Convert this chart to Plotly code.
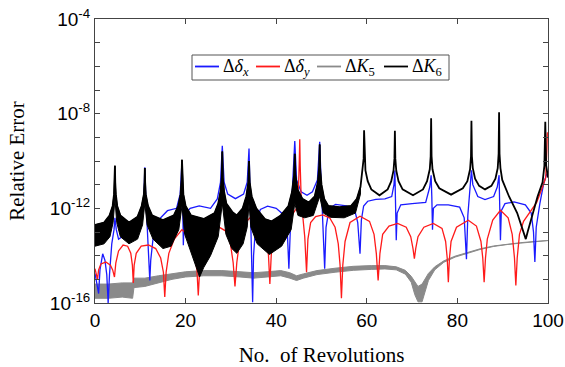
import plotly.graph_objects as go

# ---------------- data (log10 of relative error) ----------------
# Delta delta_x (blue)
DX_REV = [0, 0.5, 0.8, 1.1, 1.7, 2.2, 2.6, 2.9, 3.2, 3.7, 4.2, 4.4, 4.7, 5.2, 6, 8, 10, 10.8, 11.0, 11.2,
          11.6, 11.9, 12.1, 12.3, 12.8, 14, 16, 18, 18.8, 19.2, 19.35, 19.5, 19.7, 21, 23, 25.5, 27, 27.7,
          28.1, 28.5, 29.3, 31, 32.8, 33.6, 34.0, 34.3, 34.6, 34.8, 35.0, 35.5, 36.5, 38.1, 40, 41.8, 42.5,
          42.8, 43.1, 43.7, 44.1, 44.5, 45.5, 46.8, 48, 49.1, 49.6, 49.9, 50.3, 50.7, 51.0, 51.7, 53.1, 55.5,
          57.3, 58.0, 58.5, 58.8, 59.3, 60.2, 62, 64, 65.5, 66.0, 66.2, 66.35, 66.5, 66.7, 67.5, 70, 73,
          73.9, 74.2, 74.35, 74.5, 74.7, 75.5, 78, 80.5, 81.5, 82.0, 82.3, 82.8, 83.1, 83.4, 84.5, 86.1, 88,
          88.8, 89.2, 89.35, 89.5, 89.7, 90.5, 92.5, 95, 96.3, 96.8, 97.1, 97.4, 98.2, 99.0, 99.6, 100]
DX_LOG = [-14.75, -15.3, -15.6, -14.6, -13.92, -14.2, -14.8, -16.0, -14.8, -13.5, -12.9, -12.4, -12.9, -13.3,
          -13.2, -13.0, -12.8, -11.5, -10.27, -11.5, -13.0, -14.2, -15.05, -14.2, -13.3, -12.5, -12.1, -12.0,
          -11.4, -10.03, -11.5, -13.56, -12.3, -12.0, -11.9, -12.0, -11.6, -10.9, -9.36, -10.9, -11.4, -11.59,
          -11.4, -10.9, -9.47, -11.5, -14.0, -15.97, -14.0, -12.6, -12.05, -11.91, -12.0, -12.3, -13.2, -14.55,
          -13.0, -11.0, -9.16, -10.8, -11.3, -11.45, -11.3, -10.8, -9.19, -10.8, -12.5, -14.55, -12.8, -12.0,
          -11.83, -11.9, -12.05, -12.6, -13.92, -12.5, -11.9, -11.7, -11.62, -11.6, -11.5, -11.0, -10.4, -11.8,
          -13.35, -12.2, -11.85, -11.8, -11.75, -11.1, -10.6, -11.5, -12.9, -12.0, -11.85, -11.85, -11.95,
          -12.4, -14.15, -12.3, -11.2, -10.39, -11.0, -11.5, -11.63, -11.5, -11.1, -10.6, -12.0, -13.35, -12.1,
          -11.8, -11.73, -11.85, -12.2, -13.0, -14.27, -12.8, -11.8, -11.0, -10.6, -10.5]

# Delta delta_y (red)
DY_REV = [0, 0.3, 0.55, 0.8, 1.3, 2.4, 3.4, 3.9, 4.3, 4.6, 5.2, 6.2, 7.2, 7.9, 8.25, 8.45, 8.65, 9.1, 10.2,
          11.8, 13.4, 14.5, 15.1, 15.4, 15.7, 16.3, 17.5, 19.2, 20.8, 21.9, 22.5, 22.8, 23.1, 23.7, 25.0,
          27.0, 28.8, 29.9, 30.5, 30.9, 31.3, 31.9, 33.2, 35.0, 36.8, 37.8, 38.3, 38.6, 38.9, 39.4, 40.6,
          42.3, 43.6, 44.5, 44.95, 45.1, 45.2, 45.3, 45.5, 45.9, 46.3, 46.7, 47.0, 47.6, 48.7, 50.3, 51.8,
          53.0, 53.7, 54.1, 54.4, 54.7, 55.2, 56.3, 58.5, 60.6, 61.6, 62.1, 62.5, 62.9, 63.5, 64.9, 66.8,
          68.7, 69.7, 70.2, 70.5, 70.8, 71.3, 72.6, 74.7, 76.6, 77.4, 77.75, 78.0, 78.25, 78.6, 79.8, 82.4,
          84.2, 85.2, 85.6, 85.9, 86.2, 86.6, 87.8, 89.5, 91.2, 92.1, 92.6, 92.9, 93.2, 93.7, 94.6, 95.8,
          97.5, 98.8, 99.5, 99.75, 99.85, 100]
DY_LOG = [-14.55, -14.8, -15.0, -14.6, -14.35, -14.27, -14.4, -14.6, -14.9, -14.3, -13.8, -13.55, -13.6,
          -13.9, -14.4, -15.15, -14.4, -13.9, -13.6, -13.55, -13.7, -14.1, -14.7, -15.75, -14.7, -13.9, -13.3,
          -12.9, -13.2, -13.8, -14.6, -15.68, -14.6, -13.8, -13.1, -12.75, -12.95, -13.5, -14.3, -15.3, -14.3,
          -13.4, -12.6, -12.25, -12.4, -13.0, -14.0, -15.2, -14.0, -13.0, -12.4, -12.15, -12.25, -12.0, -11.0,
          -10.0, -9.08, -10.2, -11.5, -12.4, -13.2, -14.7, -13.3, -12.6, -12.35, -12.28, -12.4, -12.8, -13.5,
          -14.4, -15.8, -14.4, -13.4, -12.6, -12.33, -12.55, -13.1, -13.9, -15.05, -13.9, -13.1, -12.75,
          -12.64, -12.8, -13.2, -13.7, -14.13, -13.7, -13.2, -12.8, -12.64, -12.85, -13.4, -14.1, -15.12,
          -14.1, -13.4, -12.8, -12.5, -12.75, -13.4, -14.1, -15.12, -14.1, -13.3, -12.5, -12.08, -12.4, -13.1,
          -14.1, -15.26, -14.1, -13.1, -12.55, -12.2, -11.75, -11.1, -10.7, -9.5, -8.8, -8.85]

# Delta K5 (gray) - noisy band: upper / lower edges
K5_REV = [0, 3, 6, 8.3, 8.6, 11, 14, 17, 20, 24, 28, 32, 35, 38, 41, 43, 44.5, 46, 49, 53, 57, 61, 64,
          66.5, 68.5, 69.8, 70.6, 71.3, 72.2, 72.8, 73.6, 75, 77, 79.5, 82, 85, 88, 91, 94, 97, 100]
K5_UP = [-15.2, -15.2, -15.15, -15.15, -14.95, -14.95, -14.85, -14.75, -14.68, -14.63, -14.63, -14.68, -14.72,
         -14.68, -14.63, -14.72, -14.85, -14.77, -14.63, -14.53, -14.45, -14.42, -14.42, -14.47, -14.62, -14.87,
         -15.1, -15.3, -15.2, -15.0, -14.75, -14.47, -14.22, -14.02, -13.87, -13.71, -13.59, -13.51, -13.45,
         -13.4, -13.36]
K5_LO = [-15.8, -15.8, -15.75, -15.8, -15.35, -15.3, -15.15, -15.0, -14.9, -14.85, -14.85, -14.9, -14.95,
         -14.9, -14.85, -14.95, -15.05, -14.95, -14.8, -14.7, -14.62, -14.58, -14.56, -14.6, -14.78, -15.12,
         -15.65, -15.95, -15.95, -15.6, -15.05, -14.6, -14.28, -14.06, -13.9, -13.74, -13.61, -13.53,
         -13.47, -13.42, -13.38]

# Delta K6 (black) - upper edge (whole range)
K6_REV = [0, 2, 3.2, 3.9, 4.2, 4.33, 4.4, 4.47, 4.6, 4.9, 5.6, 7.5, 9.4, 10.3, 10.8, 10.93, 11.0, 11.07, 11.2,
          11.7, 12.6, 15, 17.4, 18.4, 18.9, 19.1, 19.2, 19.3, 19.5, 20.0, 21.2, 24, 26.4, 27.2, 27.7, 27.98,
          28.1, 28.22, 28.5, 29.0, 30.3, 31.3, 32.6, 33.4, 33.85, 34.0, 34.15, 34.6, 35.6, 37.5, 39, 41, 42.7,
          43.5, 43.95, 44.1, 44.25, 44.7, 45.8, 47.2, 48.5, 49.2, 49.5, 49.6, 49.7, 50.0, 50.6, 51.5, 54, 56.5,
          57.8, 58.6, 59.1, 59.3, 59.4, 59.5, 59.7, 60.2, 61.0, 62.8, 64.6, 65.4, 65.9, 66.1, 66.2, 66.3, 66.5,
          67.0, 67.9, 70.2, 72.4, 73.3, 73.9, 74.1, 74.2, 74.3, 74.5, 75.1, 76.0, 78.6, 81.2, 82.2, 82.8, 83.0,
          83.1, 83.2, 83.4, 83.9, 84.8, 86.1, 87.5, 88.4, 88.9, 89.1, 89.2, 89.3, 89.5, 89.9, 91.4, 93.2, 94.7,
          95.1, 95.5, 96.2, 97.7, 98.8, 99.2, 99.4, 99.6, 100]
K6_LOG = [-12.7, -12.6, -12.3, -11.9, -11.4, -10.9, -10.2, -10.9, -11.4, -11.9, -12.3, -12.6, -12.35, -11.9,
          -11.4, -10.9, -10.3, -10.9, -11.4, -11.9, -12.3, -12.5, -12.3, -11.9, -11.4, -10.8, -9.95, -10.8,
          -11.4, -11.9, -12.3, -12.45, -12.2, -11.8, -11.3, -10.7, -9.6, -10.7, -11.3, -11.8, -12.15, -12.3,
          -12.0, -11.5, -10.9, -10.0, -10.9, -11.5, -12.0, -12.45, -12.55, -12.3, -11.9, -11.3, -10.6, -9.7,
          -10.6, -11.2, -11.6, -11.75, -11.5, -10.9, -10.2, -9.3, -10.3, -11.0, -11.6, -11.9, -11.95, -11.9,
          -11.6, -11.1, -10.4, -9.9, -8.7, -9.9, -10.4, -10.85, -11.2, -11.45, -11.2, -10.85, -10.4, -9.9,
          -8.72, -9.9, -10.4, -10.85, -11.2, -11.45, -11.2, -10.85, -10.35, -9.8, -8.19, -9.8, -10.35, -10.85,
          -11.15, -11.42, -11.15, -10.85, -10.35, -9.8, -8.3, -9.8, -10.3, -10.75, -11.05, -11.2, -11.05,
          -10.75, -10.3, -9.7, -7.94, -9.7, -10.3, -10.8, -11.5, -12.2, -13.0, -13.3, -13.0, -12.5, -11.5,
          -10.9, -10.2, -8.34, -10.2, -10.7]
# Delta K6 (black) - lower edge of the noisy band
K6_LO_REV = [0, 2, 3.3, 4.0, 4.4, 4.8, 5.6, 7.5, 9.4, 10.5, 11.0, 11.5, 12.8, 15, 16.8, 18.5, 19.2, 19.8, 21,
             22, 23.1, 24, 25.5, 27.2, 28.1, 28.9, 30.2, 31.3, 32.7, 33.6, 34.0, 34.4, 35.8, 38.5, 41.2, 43.3,
             44.1, 44.8, 46.3, 48.2, 49.6, 50.4, 52, 55, 57.5, 58.6]
K6_LO_LOG = [-13.6, -13.5, -13.2, -12.6, -11.6, -12.6, -13.2, -13.5, -13.3, -12.7, -11.8, -12.7, -13.3, -13.7,
             -13.6, -12.9, -11.9, -13.1, -13.8, -14.3, -14.9, -14.5, -14.0, -13.2, -11.8, -13.1, -13.7, -13.9,
             -13.5, -12.8, -11.8, -12.8, -13.5, -13.95, -13.6, -12.9, -11.8, -12.3, -12.4, -12.3, -11.5, -12.2,
             -12.38, -12.4, -12.2, -11.4]

SERIES_NAMES = ["Δ<i>δ</i><sub><i>x</i></sub>", "Δ<i>δ</i><sub><i>y</i></sub>",
                "Δ<i>K</i><sub>5</sub>", "Δ<i>K</i><sub>6</sub>"]
X_TICKS = [0, 20, 40, 60, 80, 100]
Y_TICK_EXP = [-16, -15, -14, -13, -12, -11, -10, -9, -8, -7, -6, -5, -4]
Y_LABELLED = [-16, -12, -8, -4]

BLUE = "#1a1aff"
RED = "#ff1a1a"
GRAY = "#8a8a8a"
BLACK = "#000000"
COLORS = [BLUE, RED, GRAY, BLACK]

W, H = 565, 367
ML, MR, MT, MB = 95, 17, 19, 64
PW, PH = W - ML - MR, H - MT - MB


def p10(vals):
    return [10 ** v for v in vals]


def px2paper(px, py):
    return (px - ML) / PW, (H - MB - py) / PH


fig = go.Figure()

# gray band
band_x = K5_REV + K5_REV[::-1]
band_y = p10(K5_UP + K5_LO[::-1])
fig.add_trace(go.Scatter(x=band_x, y=band_y, mode="lines", fill="toself", fillcolor=GRAY,
                         line=dict(color=GRAY, width=1), name=SERIES_NAMES[2], showlegend=False,
                         hoverinfo="skip"))

fig.add_trace(go.Scatter(x=DX_REV, y=p10(DX_LOG), mode="lines", line=dict(color=BLUE, width=1.3),
                         name=SERIES_NAMES[0], showlegend=False))
fig.add_trace(go.Scatter(x=DY_REV, y=p10(DY_LOG), mode="lines", line=dict(color=RED, width=1.3),
                         name=SERIES_NAMES[1], showlegend=False))

# black noisy band
lo_max = K6_LO_REV[-1]
up_part = [(x, v) for x, v in zip(K6_REV, K6_LOG) if x <= lo_max]
bx = [p[0] for p in up_part] + K6_LO_REV[::-1]
by = p10([p[1] for p in up_part] + K6_LO_LOG[::-1])
fig.add_trace(go.Scatter(x=bx, y=by, mode="lines", fill="toself", fillcolor=BLACK,
                         line=dict(color=BLACK, width=1), name=SERIES_NAMES[3], showlegend=False,
                         hoverinfo="skip"))
fig.add_trace(go.Scatter(x=K6_REV, y=p10(K6_LOG), mode="lines", line=dict(color=BLACK, width=1.8),
                         name=SERIES_NAMES[3], showlegend=False))

# ---- legend box drawn in paper coordinates ----
shapes = []
annotations = []
x0, y0 = px2paper(192, 80)
x1, y1 = px2paper(449, 55)
shapes.append(dict(type="rect", xref="paper", yref="paper", x0=x0, y0=y0, x1=x1, y1=y1,
                   line=dict(color="#555", width=1), fillcolor="white", layer="above"))
line_starts = [195, 256, 317, 384]
for i, (nm, col) in enumerate(zip(SERIES_NAMES, COLORS)):
    lx0, ly = px2paper(line_starts[i], 66.5)
    lx1, _ = px2paper(line_starts[i] + 24, 66.5)
    shapes.append(dict(type="line", xref="paper", yref="paper", x0=lx0, x1=lx1, y0=ly, y1=ly,
                       line=dict(color=col, width=1.8), layer="above"))
    tx, ty = px2paper(line_starts[i] + 26, 67)
    annotations.append(dict(xref="paper", yref="paper", x=tx, y=ty, xanchor="left", yanchor="middle",
                            text=nm, showarrow=False,
                            font=dict(family="Liberation Serif", size=18, color="black")))

fig.update_layout(
    width=W, height=H,
    margin=dict(l=ML, r=MR, t=MT, b=MB, autoexpand=False),
    paper_bgcolor="white", plot_bgcolor="white",
    showlegend=False,
    shapes=shapes, annotations=annotations,
    font=dict(family="Liberation Sans", size=19, color="black"),
)
fig.update_xaxes(range=[0, 100], tickvals=X_TICKS, ticktext=[str(t) for t in X_TICKS],
                 ticks="inside", ticklen=5, tickcolor="#444", showline=True, linecolor="#444",
                 linewidth=1, mirror="ticks", showgrid=False, zeroline=False, automargin=False,
                 title=dict(text="No.  of Revolutions", font=dict(family="Liberation Serif", size=21),
                            standoff=18))
fig.update_yaxes(type="log", range=[-16, -4], tickvals=[10 ** e for e in Y_TICK_EXP],
                 ticktext=[("10<sup>%d</sup>" % e) if e in Y_LABELLED else "" for e in Y_TICK_EXP],
                 ticks="inside", ticklen=5, tickcolor="#444", showline=True, linecolor="#444",
                 linewidth=1, mirror="ticks", showgrid=False, zeroline=False, automargin=False,
                 title=dict(text="Relative Error", font=dict(family="Liberation Serif", size=21),
                            standoff=19))

fig.write_html("out.html")
